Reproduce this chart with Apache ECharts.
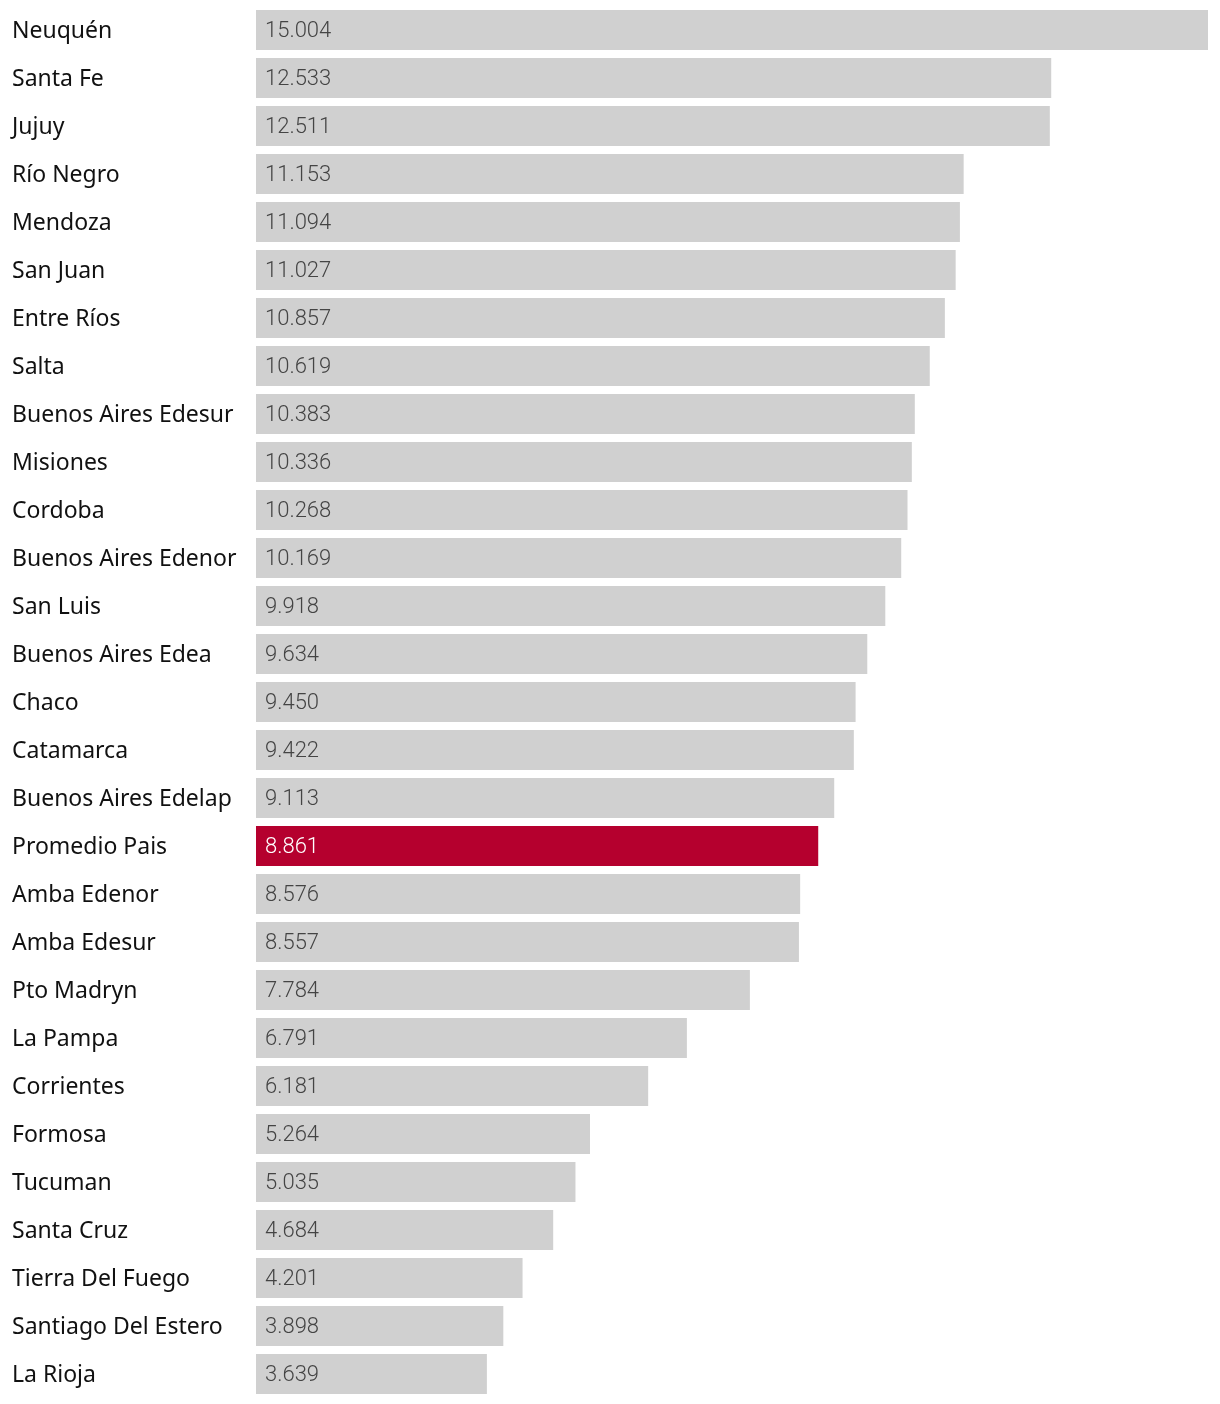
<!DOCTYPE html>
<html><head><meta charset="utf-8">
<script src="https://cdn.jsdelivr.net/npm/echarts@6/dist/echarts.min.js"></script>
<style>html,body{margin:0;padding:0;background:#fff}#c{width:1220px;height:1404px}</style>
</head><body><div id="c"></div>
<script>
const categories = ["Neuquén","Santa Fe","Jujuy","Río Negro","Mendoza","San Juan","Entre Ríos","Salta","Buenos Aires Edesur","Misiones","Cordoba","Buenos Aires Edenor","San Luis","Buenos Aires Edea","Chaco","Catamarca","Buenos Aires Edelap","Promedio Pais","Amba Edenor","Amba Edesur","Pto Madryn","La Pampa","Corrientes","Formosa","Tucuman","Santa Cruz","Tierra Del Fuego","Santiago Del Estero","La Rioja"];
const values = [15004,12533,12511,11153,11094,11027,10857,10619,10383,10336,10268,10169,9918,9634,9450,9422,9113,8861,8576,8557,7784,6791,6181,5264,5035,4684,4201,3898,3639];
const highlight = "Promedio Pais";

function fmt(v){ return v.toLocaleString('de-DE'); }

const chart = echarts.init(document.getElementById('c'));
chart.setOption({
  animation:false,
  grid:{left:256,right:12,top:6,bottom:6,containLabel:false},
  xAxis:{type:'value',min:0,max:15004,show:false},
  yAxis:{type:'category',data:categories,inverse:true,
    axisLine:{show:false},axisTick:{show:false},
    axisLabel:{align:'left',margin:244,formatter:v=>'{a|'+v+'}',
      rich:{a:{color:'#111',fontSize:23,fontFamily:'Noto Sans',padding:[3,0,0,0]}}}},
  series:[{type:'bar',barCategoryGap:'16.67%',
    data:values.map((v,i)=>({value:v,itemStyle:{color:categories[i]===highlight?'#b5002e':'#d0d0d0'},
      label:{color:categories[i]===highlight?'#fff':'#444'}})),
    label:{show:true,position:'insideLeft',distance:9,offset:[0,1.5],fontSize:22,fontFamily:'Roboto',fontWeight:300,
      formatter:p=>fmt(p.value)}}]
});
</script></body></html>
